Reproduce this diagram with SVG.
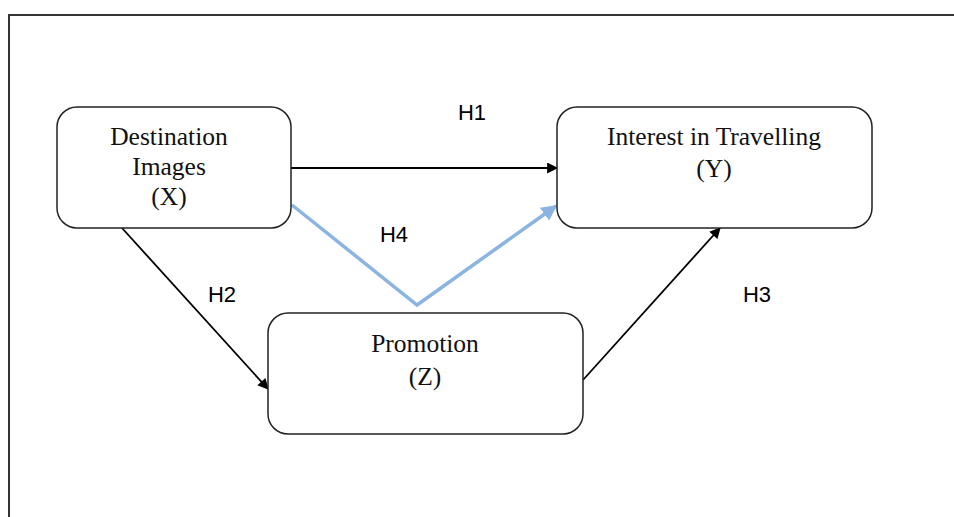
<svg xmlns="http://www.w3.org/2000/svg" width="954" height="517" viewBox="0 0 954 517">
<defs>
<style>
.box{fill:#fff;stroke:#222;stroke-width:1.5}
.nt{font-family:"Liberation Serif",serif;font-size:25.5px;fill:#111;text-anchor:middle}
.lb{font-family:"Liberation Sans",sans-serif;font-size:22px;fill:#000;text-anchor:middle}
.k{stroke:#000;stroke-width:1.8;fill:none}
.b{stroke:#8CB4E3;stroke-width:3.5;fill:none}
</style>
<marker id="ak" viewBox="0 0 10 10" refX="9" refY="5" markerWidth="13" markerHeight="11" markerUnits="userSpaceOnUse" orient="auto"><path d="M0,0 L10,5 L0,10 Z" fill="#000"/></marker>
<marker id="ab" viewBox="0 0 10 10" refX="9" refY="5" markerWidth="4.5" markerHeight="4.5" orient="auto"><path d="M0,0 L10,5 L0,10 Z" fill="#8CB4E3"/></marker>
</defs>
<rect x="0" y="0" width="954" height="517" fill="#fff"/>
<rect x="9" y="15" width="980" height="540" fill="none" stroke="#333" stroke-width="2"/>
<g id="connectors">
<line class="k" x1="291" y1="168" x2="557" y2="168" marker-end="url(#ak)"/>
<line class="k" x1="122" y1="228" x2="268" y2="389" marker-end="url(#ak)"/>
<line class="k" x1="583" y1="380" x2="720" y2="228" marker-end="url(#ak)"/>
<polyline class="b" points="292,205 417,305 556,206" marker-end="url(#ab)"/>
<text class="lb" x="472" y="120">H1</text>
<text class="lb" x="222" y="302">H2</text>
<text class="lb" x="757" y="302">H3</text>
<text class="lb" x="394" y="242">H4</text>
</g>
<g id="node-x">
<rect class="box" x="57" y="107" width="234" height="121" rx="20"/>
<text class="nt" x="169" y="145">Destination</text>
<text class="nt" x="169" y="175">Images</text>
<text class="nt" x="169" y="205">(X)</text>
</g>
<g id="node-y">
<rect class="box" x="557" y="107" width="315" height="121" rx="20"/>
<text class="nt" x="714" y="145">Interest in Travelling</text>
<text class="nt" x="714" y="177">(Y)</text>
</g>
<g id="node-z">
<rect class="box" x="268" y="313" width="315" height="121" rx="20"/>
<text class="nt" x="425" y="352">Promotion</text>
<text class="nt" x="425" y="385">(Z)</text>
</g>
</svg>
